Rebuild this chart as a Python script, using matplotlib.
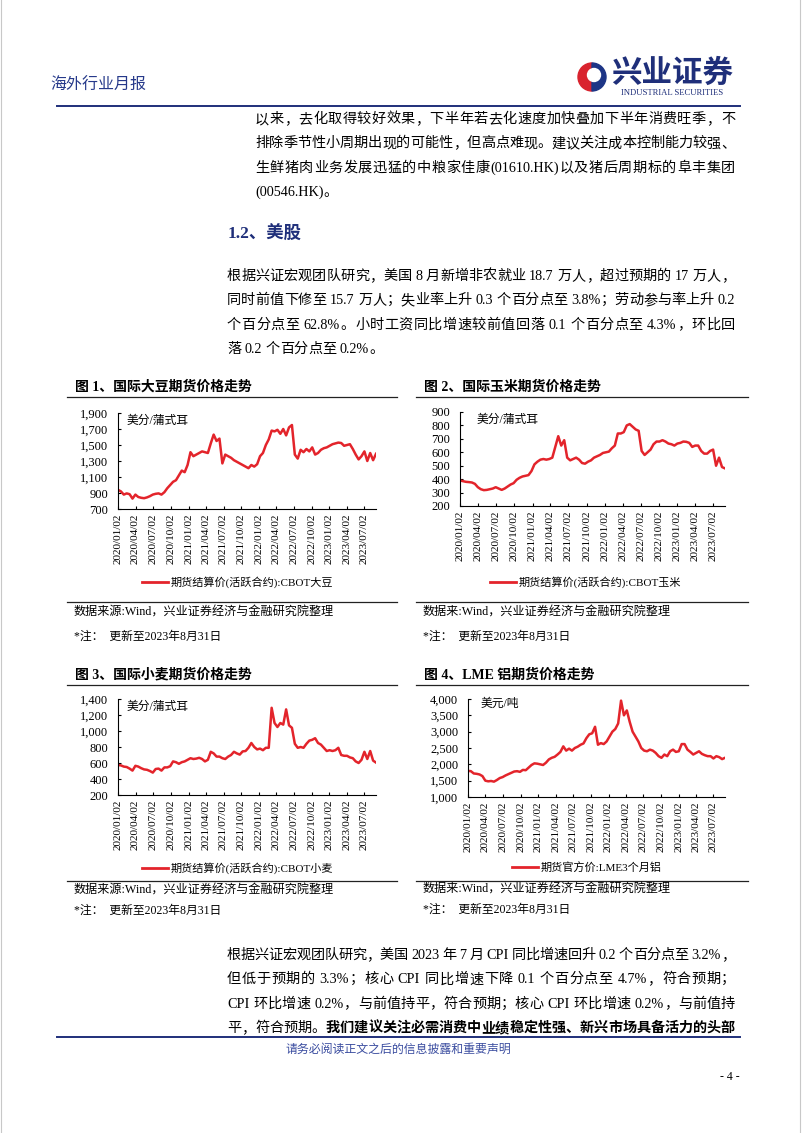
import re
import matplotlib
matplotlib.use("Agg")
import matplotlib.pyplot as plt
from matplotlib.patches import Wedge, Circle
from matplotlib.ticker import FuncFormatter
import numpy as np
import pandas as pd

W, H = 802, 1133
SERIF = ["Liberation Serif", "Noto Sans CJK SC"]
SANS = ["Noto Sans CJK SC", "DejaVu Sans"]
NAVY = "#1f2f7a"
RED = "#e3242b"
plt.rcParams["font.family"] = SERIF

# ---- values, one point every ~15 days (2020/01/02 -> 2023/08/31)
soy = [940, 920, 880, 895, 885, 830, 880, 850, 840, 835, 845, 860, 880, 890, 895, 880,
       910, 960, 1000, 1040, 1060, 1120, 1180, 1160, 1250, 1410, 1360, 1380, 1400, 1420,
       1410, 1400, 1520, 1630, 1550, 1580, 1270, 1380, 1360, 1340, 1310, 1290, 1270, 1250,
       1230, 1210, 1250, 1230, 1260, 1360, 1400, 1500, 1570, 1680, 1670, 1690, 1640, 1700,
       1620, 1720, 1750, 1380, 1330, 1440, 1410, 1450, 1420, 1470, 1380, 1400, 1440, 1460,
       1470, 1490, 1510, 1520, 1530, 1525, 1490, 1500, 1510, 1450, 1380, 1320, 1360, 1420,
       1300, 1400, 1310, 1390]
corn = [390, 385, 380, 378, 375, 365, 340, 325, 318, 320, 325, 330, 340, 330, 320, 330,
        345, 360, 370, 395, 410, 420, 425, 430, 460, 510, 530, 545, 550, 545, 550, 560,
        640, 720, 650, 690, 560, 540, 550, 560, 545, 520, 515, 530, 540, 560, 570, 580,
        595, 600, 605, 630, 650, 740, 740, 750, 800, 810, 790, 770, 760, 610, 580, 600,
        620, 660, 680, 680, 690, 680, 665, 660, 650, 665, 670, 680, 678, 670, 640, 650,
        650, 610, 590, 590, 610, 620, 500, 560, 490, 480]
wheat = [575, 570, 555, 550, 530, 505, 565, 555, 535, 520, 515, 500, 480, 525, 530, 505,
         545, 545, 560, 620, 610, 590, 610, 620, 640, 660, 650, 655, 665, 650, 620, 640,
         740, 720, 680, 680, 660, 650, 680, 700, 740, 720, 705, 745, 750, 790, 850, 800,
         770, 780, 760, 790, 790, 1290, 1100, 1050, 1100, 1080, 1270, 1070, 1040, 840, 790,
         800, 790, 840, 880, 890, 910, 850, 830, 790, 750, 760, 750, 760, 790, 700, 690,
         690, 670, 660, 620, 600, 640, 740, 650, 750, 630, 605]
alum = [1800, 1790, 1720, 1710, 1690, 1640, 1500, 1480, 1490, 1470, 1520, 1580, 1610,
        1660, 1700, 1740, 1780, 1790, 1770, 1830, 1820, 1900, 1980, 2030, 2020, 2000, 1980,
        2050, 2150, 2200, 2230, 2300, 2380, 2550, 2420, 2480, 2420, 2500, 2540, 2600, 2640,
        2800, 2920, 2950, 3150, 2600, 2650, 2620, 2700, 2850, 3000, 3080, 3250, 3950, 3500,
        3650, 3300, 3000, 2850, 2700, 2500, 2420, 2400, 2450, 2420, 2350, 2250, 2200, 2300,
        2250, 2400, 2450, 2380, 2400, 2620, 2620, 2450, 2380, 2300, 2350, 2400, 2320, 2280,
        2250, 2250, 2180, 2250, 2220, 2160, 2200]

start, end = pd.Timestamp("2020-01-02"), pd.Timestamp("2023-08-31")
dates = pd.to_datetime(np.linspace(start.value, end.value, len(soy)))
tick_dates = pd.date_range(start, periods=15, freq=pd.DateOffset(months=3))
tick_labels = [d.strftime("%Y/%m/%d") for d in tick_dates]

top_lines = [
    "以来，去化取得较好效果，下半年若去化速度加快叠加下半年消费旺季，不",
    "排除季节性小周期出现的可能性，但高点难现。建议关注成本控制能力较强、",
    "生鲜猪肉业务发展迅猛的中粮家佳康(01610.HK)以及猪后周期标的阜丰集团",
    "(00546.HK)。",
]
para1 = [
    "根据兴证宏观团队研究，美国 8 月新增非农就业 18.7 万人，超过预期的 17 万人，",
    "同时前值下修至 15.7 万人；失业率上升 0.3 个百分点至 3.8%；劳动参与率上升 0.2",
    "个百分点至 62.8%。小时工资同比增速较前值回落 0.1 个百分点至 4.3%，环比回",
    "落 0.2 个百分点至 0.2%。",
]
para2 = [
    "根据兴证宏观团队研究，美国 2023 年 7 月 CPI 同比增速回升 0.2 个百分点至 3.2%，",
    "但低于预期的 3.3%；核心 CPI 同比增速下降 0.1 个百分点至 4.7%，符合预期；",
    "CPI 环比增速 0.2%，与前值持平，符合预期；核心 CPI 环比增速 0.2%，与前值持",
]
para2_last = [("平，符合预期。", "normal"),
              ("我们建议关注必需消费中业绩稳定性强、新兴市场具备活力的头部", "bold")]

fig = plt.figure(figsize=(W / 100, H / 100), dpi=100)
page = fig.add_axes([0, 0, 1, 1])
page.set_xlim(0, W)
page.set_ylim(H, 0)
page.axis("off")
rend = fig.canvas.get_renderer()


def box(l, t, r, b):
    return [l / W, 1 - b / H, (r - l) / W, (b - t) / H]


def put_line(x0, y, parts, x1=None, size=10.2):
    # lay a line out token by token, spread to x1 when justified
    toks = []
    for txt, wt in parts:
        for tok in re.findall(r"[A-Za-z0-9.%()/:]+| |.", txt):
            toks.append((tok, wt))
    objs, widths = [], []
    for tok, wt in toks:
        t = page.text(x0, y, tok, fontsize=size, fontweight=wt, va="baseline", ha="left")
        objs.append(t)
        widths.append(size * 100 / 72 * 0.25 if tok == " " else t.get_window_extent(rend).width)
    gap = 0
    if x1 is not None and len(toks) > 1:
        gap = (x1 - x0 - sum(widths)) / (len(toks) - 1)
    x = x0
    for t, w in zip(objs, widths):
        t.set_x(x)
        x += w + gap


# ---- header
page.text(50, 86, "海外行业月报", fontsize=11.5, color="#26398a", va="center")
page.add_patch(Wedge((592, 77), 14, 90, 270, color="#d9232e"))
page.add_patch(Wedge((592, 77), 14, 270, 90, color="#1d3586"))
page.add_patch(Circle((594, 75), 6.5, color="white"))
page.text(611, 73, "兴业证券", fontsize=22, fontweight="bold", color=NAVY, va="center", family=SANS)
page.text(621, 93, "INDUSTRIAL SECURITIES", fontsize=6.2, color=NAVY, va="center",
          family=["Liberation Serif"])
page.plot([57, 740], [106, 106], color=NAVY, lw=1.4)
page.plot([1, 1], [0, H], color="#c8c8c8", lw=0.8)
page.plot([800, 800], [0, H], color="#c8c8c8", lw=0.8)

for i, ln in enumerate(top_lines):
    put_line(255, 123 + 24.3 * i, [(ln, "normal")], x1=735 if i < 3 else None)
page.text(228, 239, "1.2、美股", fontsize=12.5, fontweight="bold", color=NAVY, va="baseline")
for i, ln in enumerate(para1):
    put_line(227, 280 + 24.3 * i, [(ln, "normal")], x1=735 if i < 3 else None)
for i, ln in enumerate(para2):
    put_line(227, 959 + 24.3 * i, [(ln, "normal")], x1=735)
put_line(227, 959 + 24.3 * 3, para2_last, x1=735)

page.plot([57, 740], [1037, 1037], color=NAVY, lw=1.4)
page.text(286, 1049, "请务必阅读正文之后的信息披露和重要声明", fontsize=8.6, color="#3b4da0",
          va="center", family=SANS)
page.text(740, 1077, "- 4 -", fontsize=8.5, ha="right", va="center")

# ---- charts
charts = [
    dict(vals=soy, title="图 1、国际大豆期货价格走势", col=(67, 397), top=387,
         ax=(118, 413, 376, 509), ylim=(700, 1900), step=200, unit="美分/蒲式耳", unit_xy=(127, 421),
         leg="期货结算价(活跃合约):CBOT大豆", leg_x=142, leg_y=582, rule=602,
         src="数据来源:Wind，兴业证券经济与金融研究院整理", src_y=613, note_y=637),
    dict(vals=corn, title="图 2、国际玉米期货价格走势", col=(416, 748), top=387,
         ax=(460, 412, 725, 506), ylim=(200, 900), step=100, unit="美分/蒲式耳", unit_xy=(477, 420),
         leg="期货结算价(活跃合约):CBOT玉米", leg_x=490, leg_y=582, rule=602,
         src="数据来:Wind，兴业证券经济与金融研究院整理", src_y=613, note_y=637),
    dict(vals=wheat, title="图 3、国际小麦期货价格走势", col=(67, 397), top=675,
         ax=(118, 699, 376, 795), ylim=(200, 1400), step=200, unit="美分/蒲式耳", unit_xy=(127, 707),
         leg="期货结算价(活跃合约):CBOT小麦", leg_x=142, leg_y=868, rule=881,
         src="数据来源:Wind，兴业证券经济与金融研究院整理", src_y=891, note_y=911),
    dict(vals=alum, title="图 4、LME 铝期货价格走势", col=(416, 748), top=675,
         ax=(468, 699, 725, 797), ylim=(1000, 4000), step=500, unit="美元/吨", unit_xy=(481, 704),
         leg="期货官方价:LME3个月铝", leg_x=512, leg_y=867, rule=881,
         src="数据来:Wind，兴业证券经济与金融研究院整理", src_y=890, note_y=910),
]

for c in charts:
    x0, x1 = c["col"]
    page.text(x0 + 8, c["top"], c["title"], fontsize=10, fontweight="bold", va="center")
    page.plot([x0, x1], [c["top"] + 9.5, c["top"] + 9.5], color="#222222", lw=0.9)
    page.plot([x0, x1], [c["rule"], c["rule"]], color="#222222", lw=0.9)
    page.text(x0 + 7, c["src_y"], c["src"], fontsize=8.7, va="center")
    page.text(x0 + 7, c["note_y"], "*注：  更新至2023年8月31日", fontsize=8.5, va="center")
    page.plot([c["leg_x"], c["leg_x"] + 26], [c["leg_y"], c["leg_y"]], color=RED, lw=2)
    page.text(c["leg_x"] + 29, c["leg_y"], c["leg"], fontsize=8, va="center")
    page.text(*c["unit_xy"], c["unit"], fontsize=8.5, va="center")

    ax = fig.add_axes(box(*c["ax"]))
    ax.patch.set_alpha(0)
    ax.plot(dates, c["vals"], color=RED, lw=1.8)
    ax.set_xlim(dates[0], dates[-1])
    ax.set_ylim(c["ylim"])
    ax.set_yticks(np.arange(c["ylim"][0], c["ylim"][1] + 1, c["step"]))
    ax.yaxis.set_major_formatter(FuncFormatter(lambda v, p: f"{v:,.0f}"))
    ax.set_xticks(tick_dates)
    ax.set_xticklabels(tick_labels, rotation=90)
    for s in ["top", "right"]:
        ax.spines[s].set_visible(False)
    for s in ["left", "bottom"]:
        ax.spines[s].set_linewidth(0.8)
    ax.tick_params(direction="in", length=2.5, width=0.8)
    ax.tick_params(axis="y", pad=7, labelsize=9)
    ax.tick_params(axis="x", pad=3, labelsize=8.1)

fig.savefig("out.png", dpi=100)
